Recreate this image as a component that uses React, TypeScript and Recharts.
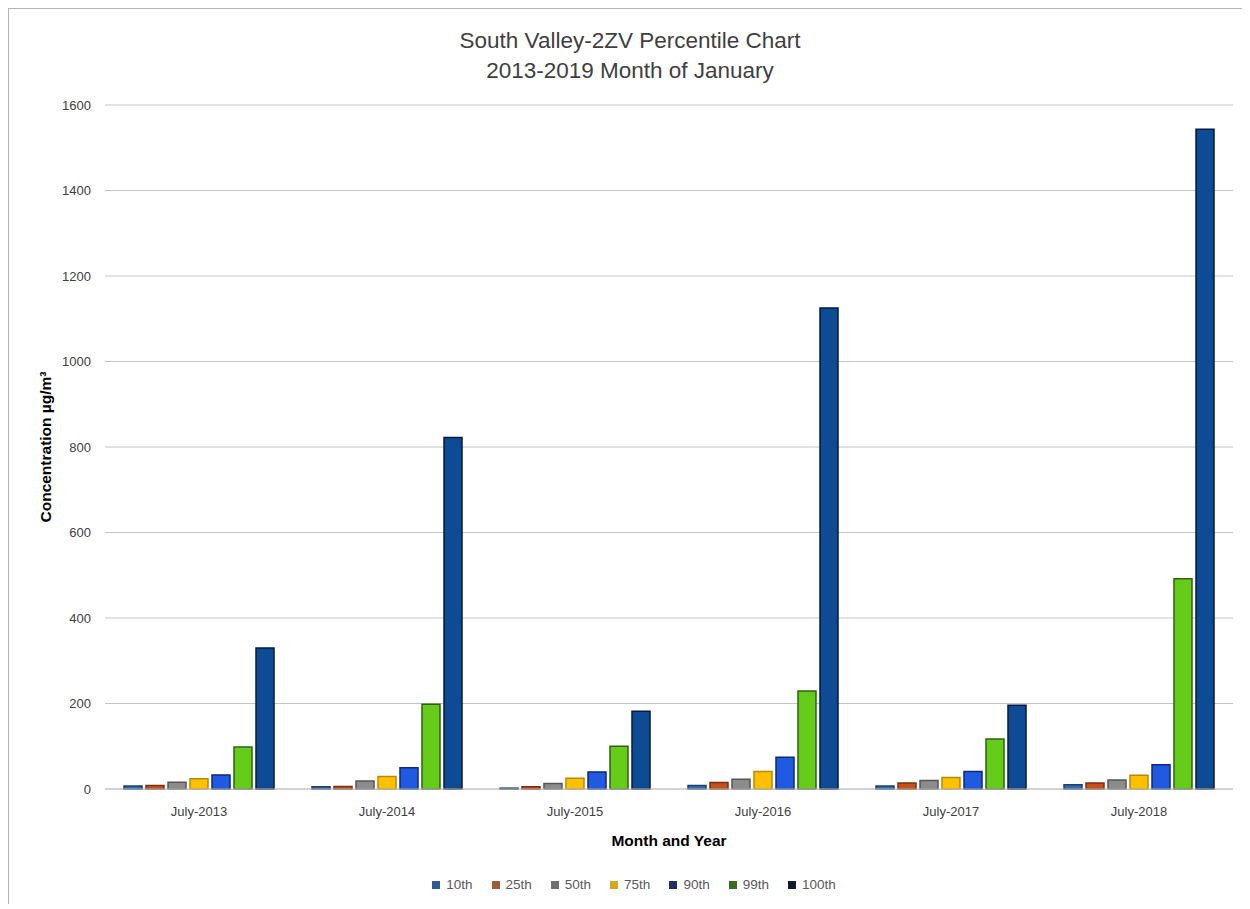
import React from 'react';
import { BarChart, Bar, XAxis, YAxis, CartesianGrid, Label } from 'recharts';

// categories along the x axis
const months = ['July-2013', 'July-2014', 'July-2015', 'July-2016', 'July-2017', 'July-2018'];

// percentile concentrations, one array per series (µg/m³)
const p10 = [7, 5, 2, 8, 7, 10];
const p25 = [8, 6, 5, 15, 14, 14];
const p50 = [16, 19, 13, 23, 20, 21];
const p75 = [24, 29, 25, 41, 27, 32];
const p90 = [33, 50, 40, 74, 41, 57];
const p99 = [98, 198, 100, 229, 117, 492];
const p100 = [330, 822, 182, 1125, 196, 1543];

const yTicks = [0, 200, 400, 600, 800, 1000, 1200, 1400, 1600];

const series = [
  { key: 'p10', name: '10th', values: p10, fill: '#2F6DB5', stroke: '#1F3F6A', swatch: '#2D5C99' },
  { key: 'p25', name: '25th', values: p25, fill: '#C5501A', stroke: '#7A3010', swatch: '#A05A35' },
  { key: 'p50', name: '50th', values: p50, fill: '#8C8C8C', stroke: '#555555', swatch: '#707070' },
  { key: 'p75', name: '75th', values: p75, fill: '#FFC000', stroke: '#B58A00', swatch: '#D9A520' },
  { key: 'p90', name: '90th', values: p90, fill: '#1F5AE0', stroke: '#0F2A7A', swatch: '#1F2D6B' },
  { key: 'p99', name: '99th', values: p99, fill: '#66CC1A', stroke: '#2F6010', swatch: '#3D6B22' },
  { key: 'p100', name: '100th', values: p100, fill: '#0D4C94', stroke: '#051A3A', swatch: '#15192E' },
];

const data = months.map((m, i) => {
  const row: Record<string, string | number> = { month: m };
  series.forEach((s) => {
    row[s.key] = s.values[i];
  });
  return row;
});

const font = '"Liberation Sans", Arial, sans-serif';

const App: React.FC = () => {
  return (
    <div
      style={{
        position: 'relative',
        width: 1234,
        height: 895,
        borderTop: '1px solid #b4b4b4',
        borderLeft: '1px solid #b4b4b4',
        background: '#fff',
        fontFamily: font,
      }}
    >
      <div
        style={{
          position: 'absolute',
          top: 17,
          left: 0,
          width: 1242,
          textAlign: 'center',
          fontSize: 22.5,
          lineHeight: '30px',
          color: '#404040',
        }}
      >
        South Valley-2ZV Percentile Chart
        <br />
        2013-2019 Month of January
      </div>

      <BarChart
        width={1233}
        height={894}
        data={data}
        margin={{ top: 96, right: 9, left: 46, bottom: 84 }}
        barCategoryGap={19}
        barGap={4}
      >
        <CartesianGrid vertical={false} stroke="#c4c4c4" />
        <XAxis
          dataKey="month"
          height={30}
          tickLine={false}
          axisLine={{ stroke: '#c4c4c4' }}
          tick={{ fill: '#404040', fontSize: 13, fontFamily: font }}
          tickMargin={12}
        >
          <Label
            value="Month and Year"
            position="insideBottom"
            offset={-27}
            style={{ fill: '#000', fontSize: 15.5, fontWeight: 'bold', fontFamily: font }}
          />
        </XAxis>
        <YAxis
          width={50}
          domain={[0, 1600]}
          ticks={yTicks}
          tickLine={false}
          axisLine={false}
          tick={{ fill: '#404040', fontSize: 13, fontFamily: font }}
          tickMargin={8}
        >
          <Label
            value="Concentration µg/m³"
            angle={-90}
            position="insideLeft"
            offset={-10}
            style={{ fill: '#000', fontSize: 15.5, fontWeight: 'bold', fontFamily: font, textAnchor: 'middle' }}
          />
        </YAxis>
        {series.map((s) => (
          <Bar
            key={s.key}
            dataKey={s.key}
            name={s.name}
            fill={s.fill}
            stroke={s.stroke}
            strokeWidth={1.5}
            isAnimationActive={false}
          />
        ))}
      </BarChart>

      <div
        style={{
          position: 'absolute',
          top: 868,
          left: 0,
          width: 1250,
          display: 'flex',
          justifyContent: 'center',
          gap: 19,
          fontSize: 13.5,
          color: '#595959',
        }}
      >
        {series.map((s) => (
          <span key={s.key} style={{ display: 'flex', alignItems: 'center', gap: 6 }}>
            <span style={{ display: 'inline-block', width: 8, height: 8, background: s.swatch }} />
            {s.name}
          </span>
        ))}
      </div>
    </div>
  );
};

export default App;
